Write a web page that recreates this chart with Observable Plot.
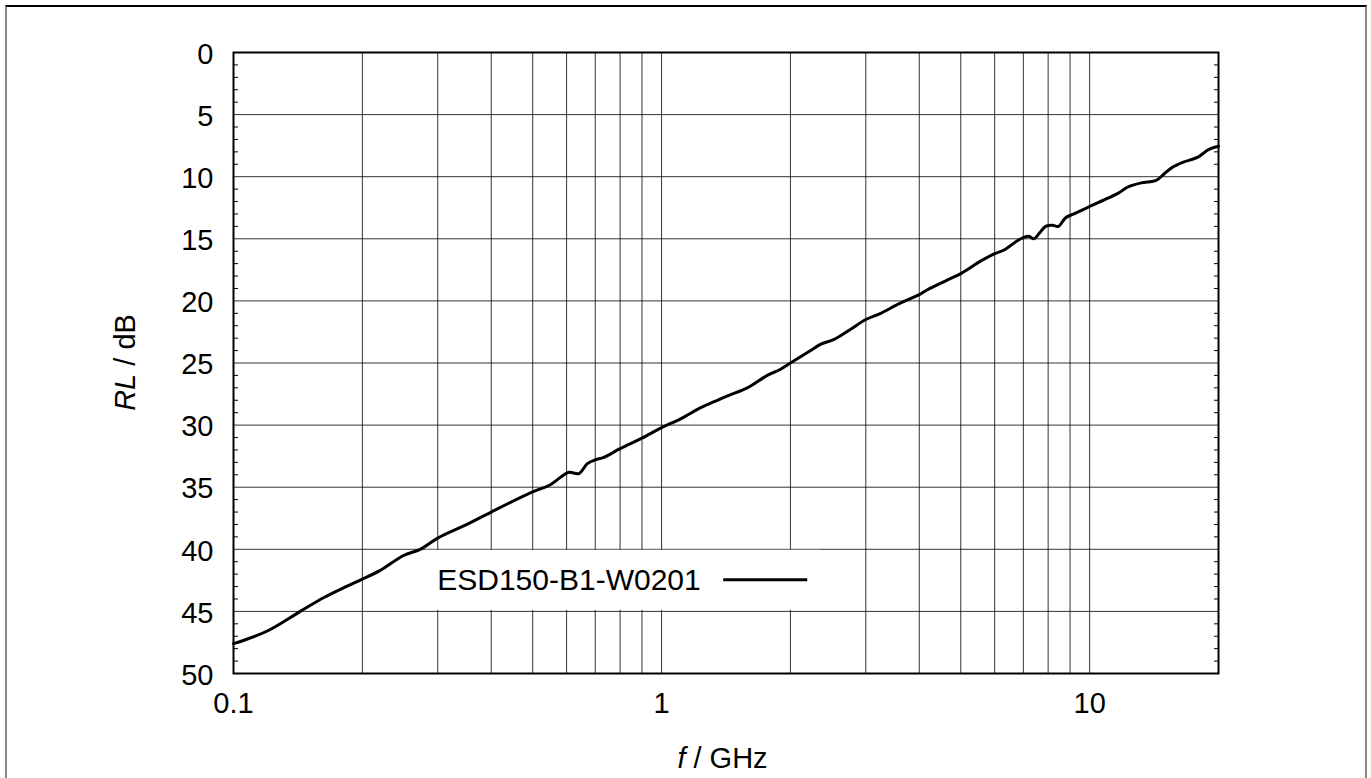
<!DOCTYPE html>
<html><head><meta charset="utf-8">
<script src="https://cdn.jsdelivr.net/npm/d3@7"></script>
<script src="https://cdn.jsdelivr.net/npm/@observablehq/plot@0.6"></script>
<style>
body{margin:0;background:#fff;}
#wrap{position:relative;width:1371px;height:778px;overflow:hidden;background:#fff;}
#border{position:absolute;left:5px;top:5px;width:1362px;height:800px;border-left:2px solid #888;border-right:2px solid #888;border-top:2px solid #000;box-sizing:border-box;}
#wrap svg{position:absolute;left:0;top:0;}
</style></head><body><div id="wrap"><div id="border"></div></div>
<script>
// Frequency (GHz) and return loss (dB)
const freq = [0.1, 0.1196, 0.1432, 0.1623, 0.1807, 0.2, 0.2202, 0.2496, 0.2731, 0.3,
  0.351, 0.4, 0.498, 0.55, 0.581, 0.607, 0.641, 0.671, 0.7, 0.733,
  0.8, 0.9, 1.0, 1.108, 1.234, 1.35, 1.436, 1.586, 1.766, 1.897,
  2.0, 2.23, 2.35, 2.53, 2.76, 3.0, 3.25, 3.6, 4.0, 4.18,
  4.6, 5.0, 5.56, 6.0, 6.31, 6.78, 7.0, 7.21, 7.41, 7.61,
  7.89, 8.18, 8.45, 8.79, 9.19, 10, 11.0, 11.7, 12.25, 13.2,
  14.3, 14.9, 15.6, 16.5, 17.85, 19.0, 20];
const rl = [47.6, 46.6, 45.0, 43.9, 43.1, 42.4, 41.7, 40.5, 40.0, 39.1,
  38.0, 37.0, 35.4, 34.8, 34.2, 33.8, 33.9, 33.1, 32.8, 32.6,
  31.9, 31.05, 30.2, 29.5, 28.6, 28.0, 27.6, 27.0, 26.0, 25.5,
  25.0, 24.0, 23.5, 23.1, 22.3, 21.5, 21.0, 20.2, 19.5, 19.1,
  18.4, 17.8, 16.8, 16.2, 15.9, 15.15, 14.9, 14.8, 15.0, 14.6,
  14.0, 13.9, 14.0, 13.3, 13.0, 12.4, 11.75, 11.3, 10.85, 10.5,
  10.3, 9.8, 9.25, 8.85, 8.45, 7.8, 7.55];
const seriesName = "ESD150-B1-W0201";
const xTicks = [0.1, 1, 10];
const xGrid = [0.2, 0.3, 0.4, 0.5, 0.6, 0.7, 0.8, 0.9, 1, 2, 3, 4, 5, 6, 7, 8, 9, 10];
const yTicks = [0, 5, 10, 15, 20, 25, 30, 35, 40, 45, 50];
const yGrid = [5, 10, 15, 20, 25, 30, 35, 40, 45];
const yMinor = d3.range(1, 50).filter(d => d % 5 !== 0);

const data = freq.map((f, i) => ({f, rl: rl[i]}));
const font = "'Liberation Sans', Arial, Helvetica, sans-serif";

const chart = Plot.plot({
  width: 1371, height: 778,
  marginLeft: 233, marginRight: 153, marginTop: 52, marginBottom: 105,
  style: {fontFamily: font, fontSize: "29px", color: "#000", background: "transparent", overflow: "visible"},
  x: {type: "log", domain: [0.1, 20]},
  y: {domain: [0, 50], reverse: true},
  marks: [
    Plot.ruleX(xGrid, {stroke: "#000", strokeWidth: 1, strokeOpacity: 0.8}),
    Plot.ruleY(yGrid, {stroke: "#000", strokeWidth: 1, strokeOpacity: 0.8}),
    Plot.axisY(yMinor, {anchor: "left", tickSize: 5, insetLeft: 5, text: null, label: null, strokeWidth: 1}),
    Plot.axisY(yMinor, {anchor: "right", tickSize: 5, insetRight: 5, text: null, label: null, strokeWidth: 1}),
    Plot.axisY(yTicks, {anchor: "left", tickSize: 0, tickPadding: 20, dy: 2, label: null, fontSize: 29}),
    Plot.axisX(xTicks, {anchor: "bottom", tickSize: 0, tickPadding: 19, tickFormat: d => String(d), label: null, fontSize: 29}),
    Plot.line(data, {x: "f", y: "rl", stroke: "#000", strokeWidth: 3, curve: "catmull-rom"}),
    Plot.frame({stroke: "#000", strokeWidth: 2})
  ]
});

document.getElementById("wrap").appendChild(chart);

const svg = d3.select(chart);
const sx = chart.scale("x"), sy = chart.scale("y");
const cx = (sx.range[0] + sx.range[1]) / 2;
const cy = (sy.range[0] + sy.range[1]) / 2;

// Axis titles
const yl = svg.append("text")
  .attr("transform", `translate(135,${cy}) rotate(-90)`)
  .attr("text-anchor", "middle").attr("font-family", font).attr("font-size", 29).attr("fill", "#000");
yl.append("tspan").attr("font-style", "italic").text("RL");
yl.append("tspan").text(" / dB");

const xl = svg.append("text")
  .attr("x", cx - 3).attr("y", 768)
  .attr("text-anchor", "middle").attr("font-family", font).attr("font-size", 29).attr("fill", "#000");
xl.append("tspan").attr("font-style", "italic").text("f");
xl.append("tspan").text(" / GHz");

// Legend (opaque key box between the 40 and 45 dB grid lines)
const boxTop = sy.apply(40) + 1, boxBot = sy.apply(45) - 1;
const textX = sx.apply(0.3);
const mid = (boxTop + boxBot) / 2;
const g = svg.append("g");
g.append("rect").attr("x", textX - 12).attr("y", boxTop).attr("width", 395).attr("height", boxBot - boxTop).attr("fill", "#fff");
g.append("text").attr("x", textX).attr("y", mid + 10.5).attr("text-anchor", "start")
  .attr("font-family", font).attr("font-size", 30).attr("fill", "#000").text(seriesName);
g.append("line").attr("x1", textX + 286).attr("x2", textX + 370).attr("y1", mid).attr("y2", mid)
  .attr("stroke", "#000").attr("stroke-width", 3);
</script>
</body></html>
